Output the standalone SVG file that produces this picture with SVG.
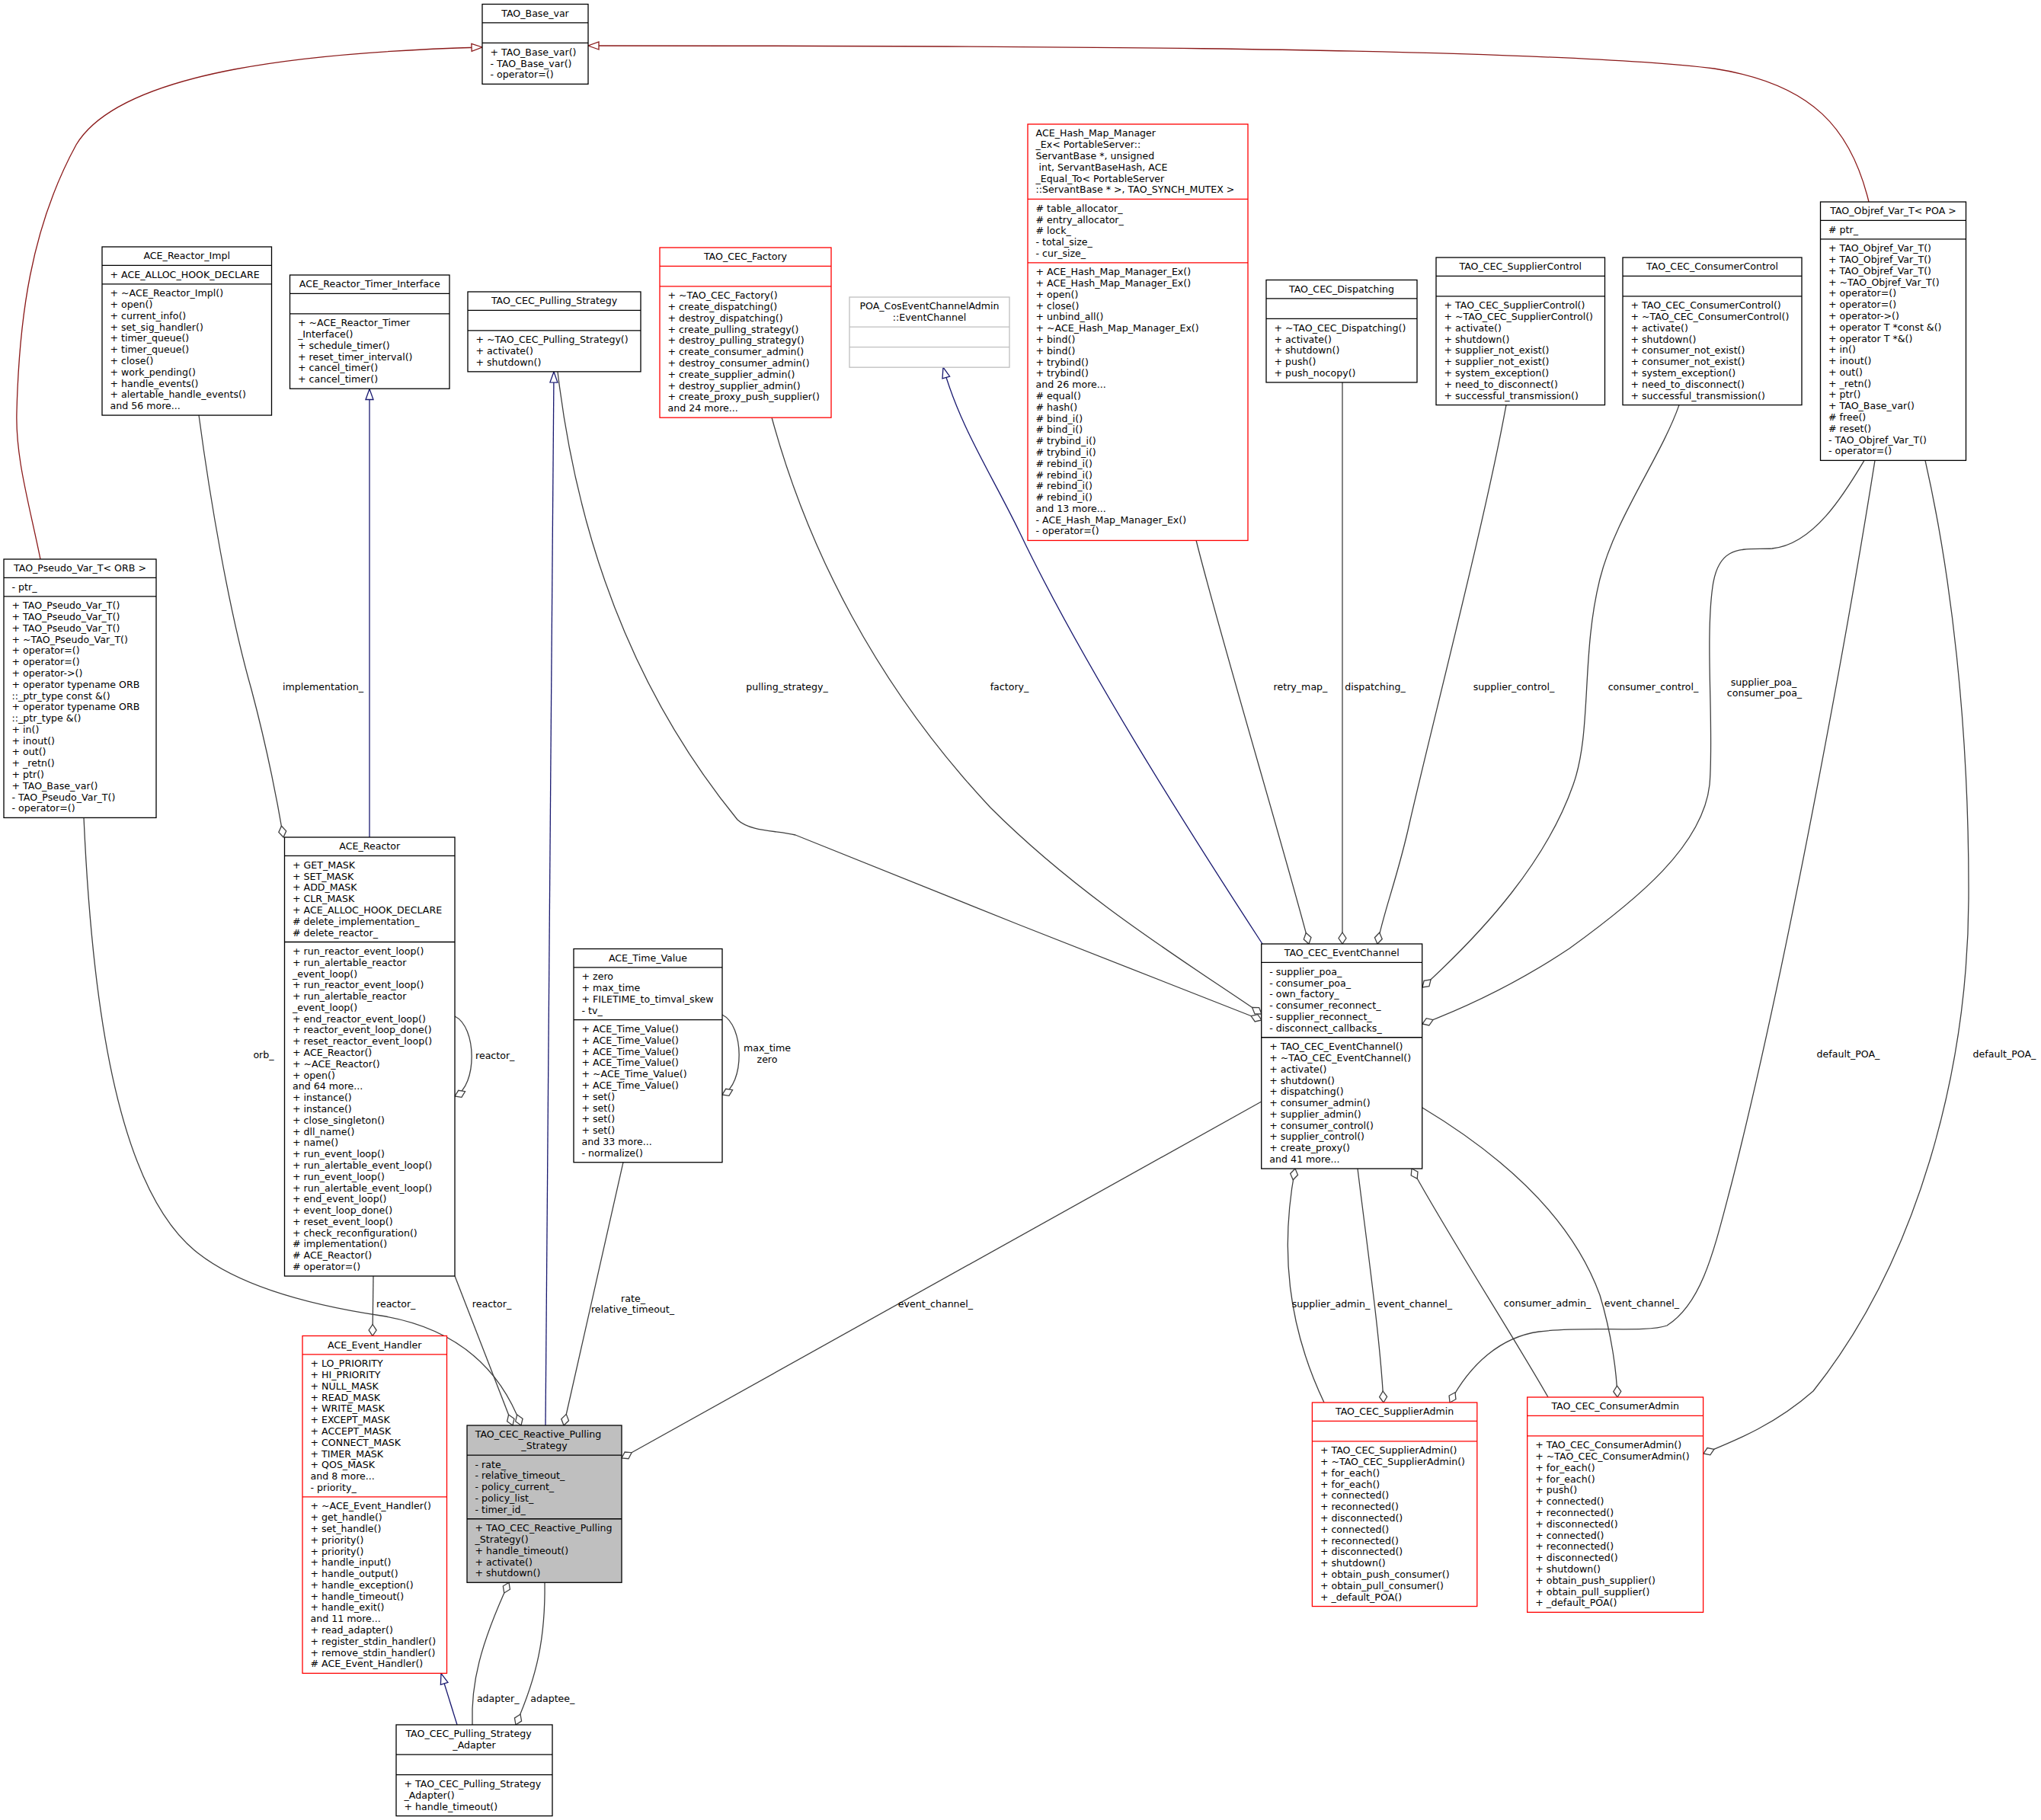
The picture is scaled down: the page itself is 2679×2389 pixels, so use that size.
<svg xmlns="http://www.w3.org/2000/svg" width="2679" height="2389" viewBox="0 0 2679 2389">
<style>
text{font-family:"DejaVu Sans","Liberation Sans",sans-serif;font-size:12.6px;fill:#000}
.c{text-anchor:middle}
.node rect{fill:#fff;stroke-width:1.3}
.node path{fill:none;stroke-width:1.3}
.bk rect,.bk path{stroke:#000}
.rd rect,.rd path{stroke:#ff0000}
.gy rect,.gy path{stroke:#bfbfbf}
.gf rect{fill:#bfbfbf}
.e{fill:none;stroke:#404040;stroke-width:1.3;marker-end:url(#d)}
.ei{fill:none;stroke:#191970;stroke-width:1.3;marker-end:url(#tb)}
.ep{fill:none;stroke:#8b1a1a;stroke-width:1.3;marker-end:url(#tr)}
</style>
<defs>
<marker id="d" markerUnits="userSpaceOnUse" markerWidth="18" markerHeight="14" refX="16" refY="7" orient="auto"><path d="M1,7 L8.5,2 L16,7 L8.5,12 Z" fill="#fff" stroke="#404040" stroke-width="1.3"/></marker>
<marker id="tb" markerUnits="userSpaceOnUse" markerWidth="18" markerHeight="14" refX="16" refY="7" orient="auto"><path d="M2,2 L16,7 L2,12 Z" fill="#fff" stroke="#191970" stroke-width="1.3"/></marker>
<marker id="tr" markerUnits="userSpaceOnUse" markerWidth="18" markerHeight="14" refX="16" refY="7" orient="auto"><path d="M2,2 L16,7 L2,12 Z" fill="#fff" stroke="#8b1a1a" stroke-width="1.3"/></marker>
</defs>
<rect width="2679" height="2389" fill="#fff"/>

<g id="edges">
<path class="ep" d="M53,734 C38,660 20,600 22,540 C25,420 40,300 100,190 C160,90 420,68 633,62"/>
<path class="ep" d="M2453,265 C2430,170 2380,110 2250,90 C2000,60 1200,60 772,60"/>
<path class="ei" d="M485,1099 L485,510.5"/>
<path class="ei" d="M716,1871 L727,488"/>
<path class="ei" d="M1657,1239 C1560,1090 1420,870 1338,698 C1300,620 1260,560 1238,482"/>
<path class="ei" d="M600,2264 L579,2196.5"/>
<path class="e" d="M261,545 C275,650 300,800 330,905 C350,980 362,1040 372,1099"/>
<path class="e" d="M732,488 C750,640 800,870 968,1076 C985,1092 1020,1090 1044,1096 L1338,1214 L1656,1339"/>
<path class="e" d="M1013,548 C1060,720 1150,900 1300,1060 C1420,1180 1560,1265 1656,1331"/>
<path class="e" d="M1570,709 C1600,830 1690,1130 1718,1239"/>
<path class="e" d="M1762,502 L1762,1239"/>
<path class="e" d="M1977,531.6 C1950,680 1880,950 1850,1081 C1835,1150 1815,1200 1808,1239"/>
<path class="e" d="M2204,531.6 C2180,600 2120,680 2100,760 C2075,860 2090,960 2065,1030 C2030,1130 1950,1220 1867,1296"/>
<path class="e" d="M2447,604.4 C2420,650 2380,715 2326,720 C2290,722 2256,712 2248,770 C2238,840 2250,960 2244,1030 C2235,1110 2150,1180 2060,1245 C2000,1285 1930,1320 1867,1344"/>
<path class="e" d="M2461,604.4 C2430,800 2350,1250 2273,1553 C2250,1640 2235,1710 2188,1740 C2160,1750 2080,1740 2020,1748 C1970,1755 1930,1790 1903,1841"/>
<path class="e" d="M2527,604.4 C2560,750 2585,950 2584,1180 C2583,1400 2520,1650 2380,1826 C2330,1870 2280,1890 2236,1908"/>
<path class="e" d="M1782,1534 C1795,1640 1812,1760 1816,1841"/>
<path class="e" d="M1738,1841 C1690,1740 1680,1640 1700,1534"/>
<path class="e" d="M2032,1834 C1990,1760 1900,1620 1853,1534"/>
<path class="e" d="M1867,1454 C1960,1510 2060,1590 2100,1700 C2115,1750 2122,1800 2123,1834"/>
<path class="e" d="M490,1675 L489,1753.5"/>
<path class="e" d="M597,1675 L673,1871"/>
<path class="e" d="M110,1073.4 C120,1300 150,1560 260,1645 C320,1692 420,1715 500,1727 C580,1740 650,1780 684,1871"/>
<path class="e" d="M818,1525.7 L740,1871"/>
<path class="e" d="M1655.7,1446 L816,1914"/>
<path class="e" d="M620,2264 C618,2210 630,2160 668,2077.3"/>
<path class="e" d="M715,2077.3 C716,2150 705,2200 677,2264"/>
<path class="e" d="M597,1334 C626,1348 627,1425 597,1439"/>
<path class="e" d="M948,1332 C977,1346 978,1423 948,1437"/>
<text class="c" x="424" y="906">implementation_</text>
<text class="c" x="1033" y="906">pulling_strategy_</text>
<text class="c" x="1325" y="906">factory_</text>
<text class="c" x="1707" y="906">retry_map_</text>
<text class="c" x="1805" y="906">dispatching_</text>
<text class="c" x="1987" y="906">supplier_control_</text>
<text class="c" x="2170" y="906">consumer_control_</text>
<text class="c" x="2315" y="899.5">supplier_poa_</text>
<text class="c" x="2316" y="914.3">consumer_poa_</text>
<text class="c" x="346" y="1389">orb_</text>
<text x="624" y="1390">reactor_</text>
<text class="c" x="1007" y="1380">max_time</text>
<text class="c" x="1007" y="1394.8">zero</text>
<text class="c" x="2426" y="1388">default_POA_</text>
<text class="c" x="2631" y="1388">default_POA_</text>
<text class="c" x="519.7" y="1716">reactor_</text>
<text class="c" x="645.5" y="1716">reactor_</text>
<text class="c" x="831" y="1708.5">rate_</text>
<text class="c" x="830.5" y="1723.3">relative_timeout_</text>
<text class="c" x="1228" y="1716">event_channel_</text>
<text class="c" x="1747" y="1716">supplier_admin_</text>
<text class="c" x="1857" y="1716">event_channel_</text>
<text class="c" x="2031" y="1715">consumer_admin_</text>
<text class="c" x="2155" y="1715">event_channel_</text>
<text class="c" x="653.7" y="2234">adapter_</text>
<text class="c" x="725.3" y="2234">adaptee_</text>
</g>

<g id="TAO_Base_var" class="node bk">
<rect x="633" y="5.5" width="139" height="104.86"/>
<path d="M633,29.89 H772 M633,56.39 H772"/>
<text class="c" x="702.5" y="21.9">TAO_Base_var</text>
<text x="643.5" y="72.79">+ TAO_Base_var()<tspan x="643.5" dy="14.79">- TAO_Base_var()</tspan><tspan x="643.5" dy="14.79">- operator=()</tspan></text>
</g>

<g id="ACE_Reactor_Impl" class="node bk">
<rect x="134" y="324" width="222.5" height="221.07"/>
<path d="M134,348.39 H356.5 M134,372.78 H356.5"/>
<text class="c" x="245.25" y="340.4">ACE_Reactor_Impl</text>
<text x="144.5" y="364.79">+ ACE_ALLOC_HOOK_DECLARE</text>
<text x="144.5" y="389.18">+ ~ACE_Reactor_Impl()<tspan x="144.5" dy="14.79">+ open()</tspan><tspan x="144.5" dy="14.79">+ current_info()</tspan><tspan x="144.5" dy="14.79">+ set_sig_handler()</tspan><tspan x="144.5" dy="14.79">+ timer_queue()</tspan><tspan x="144.5" dy="14.79">+ timer_queue()</tspan><tspan x="144.5" dy="14.79">+ close()</tspan><tspan x="144.5" dy="14.79">+ work_pending()</tspan><tspan x="144.5" dy="14.79">+ handle_events()</tspan><tspan x="144.5" dy="14.79">+ alertable_handle_events()</tspan><tspan x="144.5" dy="14.79">and 56 more...</tspan></text>
</g>

<g id="ACE_Reactor_Timer_Interface" class="node bk">
<rect x="380.5" y="361" width="209.5" height="149.23"/>
<path d="M380.5,385.39 H590 M380.5,411.89 H590"/>
<text class="c" x="485.25" y="377.4">ACE_Reactor_Timer_Interface</text>
<text x="391" y="428.29">+ ~ACE_Reactor_Timer<tspan x="391" dy="14.79">_Interface()</tspan><tspan x="391" dy="14.79">+ schedule_timer()</tspan><tspan x="391" dy="14.79">+ reset_timer_interval()</tspan><tspan x="391" dy="14.79">+ cancel_timer()</tspan><tspan x="391" dy="14.79">+ cancel_timer()</tspan></text>
</g>

<g id="TAO_CEC_Pulling_Strategy" class="node bk">
<rect x="614" y="383" width="227" height="104.86"/>
<path d="M614,407.39 H841 M614,433.89 H841"/>
<text class="c" x="727.5" y="399.4">TAO_CEC_Pulling_Strategy</text>
<text x="624.5" y="450.29">+ ~TAO_CEC_Pulling_Strategy()<tspan x="624.5" dy="14.79">+ activate()</tspan><tspan x="624.5" dy="14.79">+ shutdown()</tspan></text>
</g>

<g id="TAO_CEC_Factory" class="node rd">
<rect x="866" y="325" width="225" height="223.18"/>
<path d="M866,349.39 H1091 M866,375.89 H1091"/>
<text class="c" x="978.5" y="341.4">TAO_CEC_Factory</text>
<text x="876.5" y="392.29">+ ~TAO_CEC_Factory()<tspan x="876.5" dy="14.79">+ create_dispatching()</tspan><tspan x="876.5" dy="14.79">+ destroy_dispatching()</tspan><tspan x="876.5" dy="14.79">+ create_pulling_strategy()</tspan><tspan x="876.5" dy="14.79">+ destroy_pulling_strategy()</tspan><tspan x="876.5" dy="14.79">+ create_consumer_admin()</tspan><tspan x="876.5" dy="14.79">+ destroy_consumer_admin()</tspan><tspan x="876.5" dy="14.79">+ create_supplier_admin()</tspan><tspan x="876.5" dy="14.79">+ destroy_supplier_admin()</tspan><tspan x="876.5" dy="14.79">+ create_proxy_push_supplier()</tspan><tspan x="876.5" dy="14.79">and 24 more...</tspan></text>
</g>

<g id="POA_CosEventChannelAdmin_EventChannel" class="node gy">
<rect x="1115" y="390" width="210" height="92.18"/>
<path d="M1115,429.18 H1325 M1115,455.68 H1325"/>
<text class="c" x="1220" y="406.4">POA_CosEventChannelAdmin<tspan x="1220" dy="14.79">::EventChannel</tspan></text>
</g>

<g id="ACE_Hash_Map_Manager_Ex" class="node rd">
<rect x="1349" y="163" width="289" height="546.45"/>
<path d="M1349,261.34 H1638 M1349,344.89 H1638"/>
<text x="1359.5" y="179.4">ACE_Hash_Map_Manager<tspan x="1359.5" dy="14.79">_Ex&lt; PortableServer::</tspan><tspan x="1359.5" dy="14.79">ServantBase *, unsigned</tspan><tspan x="1363.5" dy="14.79">int, ServantBaseHash, ACE</tspan><tspan x="1359.5" dy="14.79">_Equal_To&lt; PortableServer</tspan><tspan x="1359.5" dy="14.79">::ServantBase * &gt;, TAO_SYNCH_MUTEX &gt;</tspan></text>
<text x="1359.5" y="277.74"># table_allocator_<tspan x="1359.5" dy="14.79"># entry_allocator_</tspan><tspan x="1359.5" dy="14.79"># lock_</tspan><tspan x="1359.5" dy="14.79">- total_size_</tspan><tspan x="1359.5" dy="14.79">- cur_size_</tspan></text>
<text x="1359.5" y="361.29">+ ACE_Hash_Map_Manager_Ex()<tspan x="1359.5" dy="14.79">+ ACE_Hash_Map_Manager_Ex()</tspan><tspan x="1359.5" dy="14.79">+ open()</tspan><tspan x="1359.5" dy="14.79">+ close()</tspan><tspan x="1359.5" dy="14.79">+ unbind_all()</tspan><tspan x="1359.5" dy="14.79">+ ~ACE_Hash_Map_Manager_Ex()</tspan><tspan x="1359.5" dy="14.79">+ bind()</tspan><tspan x="1359.5" dy="14.79">+ bind()</tspan><tspan x="1359.5" dy="14.79">+ trybind()</tspan><tspan x="1359.5" dy="14.79">+ trybind()</tspan><tspan x="1359.5" dy="14.79">and 26 more...</tspan><tspan x="1359.5" dy="14.79"># equal()</tspan><tspan x="1359.5" dy="14.79"># hash()</tspan><tspan x="1359.5" dy="14.79"># bind_i()</tspan><tspan x="1359.5" dy="14.79"># bind_i()</tspan><tspan x="1359.5" dy="14.79"># trybind_i()</tspan><tspan x="1359.5" dy="14.79"># trybind_i()</tspan><tspan x="1359.5" dy="14.79"># rebind_i()</tspan><tspan x="1359.5" dy="14.79"># rebind_i()</tspan><tspan x="1359.5" dy="14.79"># rebind_i()</tspan><tspan x="1359.5" dy="14.79"># rebind_i()</tspan><tspan x="1359.5" dy="14.79">and 13 more...</tspan><tspan x="1359.5" dy="14.79">- ACE_Hash_Map_Manager_Ex()</tspan><tspan x="1359.5" dy="14.79">- operator=()</tspan></text>
</g>

<g id="TAO_CEC_Dispatching" class="node bk">
<rect x="1662" y="367.5" width="198" height="134.44"/>
<path d="M1662,391.89 H1860 M1662,418.39 H1860"/>
<text class="c" x="1761" y="383.9">TAO_CEC_Dispatching</text>
<text x="1672.5" y="434.79">+ ~TAO_CEC_Dispatching()<tspan x="1672.5" dy="14.79">+ activate()</tspan><tspan x="1672.5" dy="14.79">+ shutdown()</tspan><tspan x="1672.5" dy="14.79">+ push()</tspan><tspan x="1672.5" dy="14.79">+ push_nocopy()</tspan></text>
</g>

<g id="TAO_CEC_SupplierControl" class="node bk">
<rect x="1885" y="338" width="221.5" height="193.6"/>
<path d="M1885,362.39 H2106.5 M1885,388.89 H2106.5"/>
<text class="c" x="1995.75" y="354.4">TAO_CEC_SupplierControl</text>
<text x="1895.5" y="405.29">+ TAO_CEC_SupplierControl()<tspan x="1895.5" dy="14.79">+ ~TAO_CEC_SupplierControl()</tspan><tspan x="1895.5" dy="14.79">+ activate()</tspan><tspan x="1895.5" dy="14.79">+ shutdown()</tspan><tspan x="1895.5" dy="14.79">+ supplier_not_exist()</tspan><tspan x="1895.5" dy="14.79">+ supplier_not_exist()</tspan><tspan x="1895.5" dy="14.79">+ system_exception()</tspan><tspan x="1895.5" dy="14.79">+ need_to_disconnect()</tspan><tspan x="1895.5" dy="14.79">+ successful_transmission()</tspan></text>
</g>

<g id="TAO_CEC_ConsumerControl" class="node bk">
<rect x="2130" y="338" width="235" height="193.6"/>
<path d="M2130,362.39 H2365 M2130,388.89 H2365"/>
<text class="c" x="2247.5" y="354.4">TAO_CEC_ConsumerControl</text>
<text x="2140.5" y="405.29">+ TAO_CEC_ConsumerControl()<tspan x="2140.5" dy="14.79">+ ~TAO_CEC_ConsumerControl()</tspan><tspan x="2140.5" dy="14.79">+ activate()</tspan><tspan x="2140.5" dy="14.79">+ shutdown()</tspan><tspan x="2140.5" dy="14.79">+ consumer_not_exist()</tspan><tspan x="2140.5" dy="14.79">+ consumer_not_exist()</tspan><tspan x="2140.5" dy="14.79">+ system_exception()</tspan><tspan x="2140.5" dy="14.79">+ need_to_disconnect()</tspan><tspan x="2140.5" dy="14.79">+ successful_transmission()</tspan></text>
</g>

<g id="TAO_Objref_Var_T_POA" class="node bk">
<rect x="2389.5" y="265" width="191" height="339.39"/>
<path d="M2389.5,289.39 H2580.5 M2389.5,313.78 H2580.5"/>
<text class="c" x="2485" y="281.4">TAO_Objref_Var_T&lt; POA &gt;</text>
<text x="2400" y="305.79"># ptr_</text>
<text x="2400" y="330.18">+ TAO_Objref_Var_T()<tspan x="2400" dy="14.79">+ TAO_Objref_Var_T()</tspan><tspan x="2400" dy="14.79">+ TAO_Objref_Var_T()</tspan><tspan x="2400" dy="14.79">+ ~TAO_Objref_Var_T()</tspan><tspan x="2400" dy="14.79">+ operator=()</tspan><tspan x="2400" dy="14.79">+ operator=()</tspan><tspan x="2400" dy="14.79">+ operator-&gt;()</tspan><tspan x="2400" dy="14.79">+ operator T *const &amp;()</tspan><tspan x="2400" dy="14.79">+ operator T *&amp;()</tspan><tspan x="2400" dy="14.79">+ in()</tspan><tspan x="2400" dy="14.79">+ inout()</tspan><tspan x="2400" dy="14.79">+ out()</tspan><tspan x="2400" dy="14.79">+ _retn()</tspan><tspan x="2400" dy="14.79">+ ptr()</tspan><tspan x="2400" dy="14.79">+ TAO_Base_var()</tspan><tspan x="2400" dy="14.79"># free()</tspan><tspan x="2400" dy="14.79"># reset()</tspan><tspan x="2400" dy="14.79">- TAO_Objref_Var_T()</tspan><tspan x="2400" dy="14.79">- operator=()</tspan></text>
</g>

<g id="TAO_Pseudo_Var_T_ORB" class="node bk">
<rect x="5" y="734" width="200" height="339.39"/>
<path d="M5,758.39 H205 M5,782.78 H205"/>
<text class="c" x="105" y="750.4">TAO_Pseudo_Var_T&lt; ORB &gt;</text>
<text x="15.5" y="774.79">- ptr_</text>
<text x="15.5" y="799.18">+ TAO_Pseudo_Var_T()<tspan x="15.5" dy="14.79">+ TAO_Pseudo_Var_T()</tspan><tspan x="15.5" dy="14.79">+ TAO_Pseudo_Var_T()</tspan><tspan x="15.5" dy="14.79">+ ~TAO_Pseudo_Var_T()</tspan><tspan x="15.5" dy="14.79">+ operator=()</tspan><tspan x="15.5" dy="14.79">+ operator=()</tspan><tspan x="15.5" dy="14.79">+ operator-&gt;()</tspan><tspan x="15.5" dy="14.79">+ operator typename ORB</tspan><tspan x="15.5" dy="14.79">::_ptr_type const &amp;()</tspan><tspan x="15.5" dy="14.79">+ operator typename ORB</tspan><tspan x="15.5" dy="14.79">::_ptr_type &amp;()</tspan><tspan x="15.5" dy="14.79">+ in()</tspan><tspan x="15.5" dy="14.79">+ inout()</tspan><tspan x="15.5" dy="14.79">+ out()</tspan><tspan x="15.5" dy="14.79">+ _retn()</tspan><tspan x="15.5" dy="14.79">+ ptr()</tspan><tspan x="15.5" dy="14.79">+ TAO_Base_var()</tspan><tspan x="15.5" dy="14.79">- TAO_Pseudo_Var_T()</tspan><tspan x="15.5" dy="14.79">- operator=()</tspan></text>
</g>

<g id="ACE_Reactor" class="node bk">
<rect x="373.5" y="1099" width="223.5" height="576.03"/>
<path d="M373.5,1123.39 H597 M373.5,1236.52 H597"/>
<text class="c" x="485.25" y="1115.4">ACE_Reactor</text>
<text x="384" y="1139.79">+ GET_MASK<tspan x="384" dy="14.79">+ SET_MASK</tspan><tspan x="384" dy="14.79">+ ADD_MASK</tspan><tspan x="384" dy="14.79">+ CLR_MASK</tspan><tspan x="384" dy="14.79">+ ACE_ALLOC_HOOK_DECLARE</tspan><tspan x="384" dy="14.79"># delete_implementation_</tspan><tspan x="384" dy="14.79"># delete_reactor_</tspan></text>
<text x="384" y="1252.92">+ run_reactor_event_loop()<tspan x="384" dy="14.79">+ run_alertable_reactor</tspan><tspan x="384" dy="14.79">_event_loop()</tspan><tspan x="384" dy="14.79">+ run_reactor_event_loop()</tspan><tspan x="384" dy="14.79">+ run_alertable_reactor</tspan><tspan x="384" dy="14.79">_event_loop()</tspan><tspan x="384" dy="14.79">+ end_reactor_event_loop()</tspan><tspan x="384" dy="14.79">+ reactor_event_loop_done()</tspan><tspan x="384" dy="14.79">+ reset_reactor_event_loop()</tspan><tspan x="384" dy="14.79">+ ACE_Reactor()</tspan><tspan x="384" dy="14.79">+ ~ACE_Reactor()</tspan><tspan x="384" dy="14.79">+ open()</tspan><tspan x="384" dy="14.79">and 64 more...</tspan><tspan x="384" dy="14.79">+ instance()</tspan><tspan x="384" dy="14.79">+ instance()</tspan><tspan x="384" dy="14.79">+ close_singleton()</tspan><tspan x="384" dy="14.79">+ dll_name()</tspan><tspan x="384" dy="14.79">+ name()</tspan><tspan x="384" dy="14.79">+ run_event_loop()</tspan><tspan x="384" dy="14.79">+ run_alertable_event_loop()</tspan><tspan x="384" dy="14.79">+ run_event_loop()</tspan><tspan x="384" dy="14.79">+ run_alertable_event_loop()</tspan><tspan x="384" dy="14.79">+ end_event_loop()</tspan><tspan x="384" dy="14.79">+ event_loop_done()</tspan><tspan x="384" dy="14.79">+ reset_event_loop()</tspan><tspan x="384" dy="14.79">+ check_reconfiguration()</tspan><tspan x="384" dy="14.79"># implementation()</tspan><tspan x="384" dy="14.79"># ACE_Reactor()</tspan><tspan x="384" dy="14.79"># operator=()</tspan></text>
</g>

<g id="ACE_Time_Value" class="node bk">
<rect x="753" y="1245.5" width="195" height="280.23"/>
<path d="M753,1269.89 H948 M753,1338.65 H948"/>
<text class="c" x="850.5" y="1261.9">ACE_Time_Value</text>
<text x="763.5" y="1286.29">+ zero<tspan x="763.5" dy="14.79">+ max_time</tspan><tspan x="763.5" dy="14.79">+ FILETIME_to_timval_skew</tspan><tspan x="763.5" dy="14.79">- tv_</tspan></text>
<text x="763.5" y="1355.05">+ ACE_Time_Value()<tspan x="763.5" dy="14.79">+ ACE_Time_Value()</tspan><tspan x="763.5" dy="14.79">+ ACE_Time_Value()</tspan><tspan x="763.5" dy="14.79">+ ACE_Time_Value()</tspan><tspan x="763.5" dy="14.79">+ ~ACE_Time_Value()</tspan><tspan x="763.5" dy="14.79">+ ACE_Time_Value()</tspan><tspan x="763.5" dy="14.79">+ set()</tspan><tspan x="763.5" dy="14.79">+ set()</tspan><tspan x="763.5" dy="14.79">+ set()</tspan><tspan x="763.5" dy="14.79">+ set()</tspan><tspan x="763.5" dy="14.79">and 33 more...</tspan><tspan x="763.5" dy="14.79">- normalize()</tspan></text>
</g>

<g id="ACE_Event_Handler" class="node rd">
<rect x="397" y="1753.5" width="189.5" height="442.92"/>
<path d="M397,1777.89 H586.5 M397,1964.97 H586.5"/>
<text class="c" x="491.75" y="1769.9">ACE_Event_Handler</text>
<text x="407.5" y="1794.29">+ LO_PRIORITY<tspan x="407.5" dy="14.79">+ HI_PRIORITY</tspan><tspan x="407.5" dy="14.79">+ NULL_MASK</tspan><tspan x="407.5" dy="14.79">+ READ_MASK</tspan><tspan x="407.5" dy="14.79">+ WRITE_MASK</tspan><tspan x="407.5" dy="14.79">+ EXCEPT_MASK</tspan><tspan x="407.5" dy="14.79">+ ACCEPT_MASK</tspan><tspan x="407.5" dy="14.79">+ CONNECT_MASK</tspan><tspan x="407.5" dy="14.79">+ TIMER_MASK</tspan><tspan x="407.5" dy="14.79">+ QOS_MASK</tspan><tspan x="407.5" dy="14.79">and 8 more...</tspan><tspan x="407.5" dy="14.79">- priority_</tspan></text>
<text x="407.5" y="1981.37">+ ~ACE_Event_Handler()<tspan x="407.5" dy="14.79">+ get_handle()</tspan><tspan x="407.5" dy="14.79">+ set_handle()</tspan><tspan x="407.5" dy="14.79">+ priority()</tspan><tspan x="407.5" dy="14.79">+ priority()</tspan><tspan x="407.5" dy="14.79">+ handle_input()</tspan><tspan x="407.5" dy="14.79">+ handle_output()</tspan><tspan x="407.5" dy="14.79">+ handle_exception()</tspan><tspan x="407.5" dy="14.79">+ handle_timeout()</tspan><tspan x="407.5" dy="14.79">+ handle_exit()</tspan><tspan x="407.5" dy="14.79">and 11 more...</tspan><tspan x="407.5" dy="14.79">+ read_adapter()</tspan><tspan x="407.5" dy="14.79">+ register_stdin_handler()</tspan><tspan x="407.5" dy="14.79">+ remove_stdin_handler()</tspan><tspan x="407.5" dy="14.79"># ACE_Event_Handler()</tspan></text>
</g>

<g id="TAO_CEC_Reactive_Pulling_Strategy" class="node bk gf">
<rect x="613" y="1871" width="203" height="206.28"/>
<path d="M613,1910.18 H816 M613,1993.73 H816"/>
<text class="c" x="706.5" y="1887.4">TAO_CEC_Reactive_Pulling</text>
<text class="c" x="714.5" y="1902.19">_Strategy</text>
<text x="623.5" y="1926.58">- rate_<tspan x="623.5" dy="14.79">- relative_timeout_</tspan><tspan x="623.5" dy="14.79">- policy_current_</tspan><tspan x="623.5" dy="14.79">- policy_list_</tspan><tspan x="623.5" dy="14.79">- timer_id_</tspan></text>
<text x="623.5" y="2010.13">+ TAO_CEC_Reactive_Pulling<tspan x="623.5" dy="14.79">_Strategy()</tspan><tspan x="623.5" dy="14.79">+ handle_timeout()</tspan><tspan x="623.5" dy="14.79">+ activate()</tspan><tspan x="623.5" dy="14.79">+ shutdown()</tspan></text>
</g>

<g id="TAO_CEC_Pulling_Strategy_Adapter" class="node bk">
<rect x="520" y="2264" width="205" height="119.65"/>
<path d="M520,2303.18 H725 M520,2329.68 H725"/>
<text class="c" x="615" y="2280.4">TAO_CEC_Pulling_Strategy</text>
<text class="c" x="622.5" y="2295.19">_Adapter</text>
<text x="530.5" y="2346.08">+ TAO_CEC_Pulling_Strategy<tspan x="530.5" dy="14.79">_Adapter()</tspan><tspan x="530.5" dy="14.79">+ handle_timeout()</tspan></text>
</g>

<g id="TAO_CEC_EventChannel" class="node bk">
<rect x="1655.7" y="1239" width="211" height="295.02"/>
<path d="M1655.7,1263.39 H1866.7 M1655.7,1361.73 H1866.7"/>
<text class="c" x="1761.2" y="1255.4">TAO_CEC_EventChannel</text>
<text x="1666.2" y="1279.79">- supplier_poa_<tspan x="1666.2" dy="14.79">- consumer_poa_</tspan><tspan x="1666.2" dy="14.79">- own_factory_</tspan><tspan x="1666.2" dy="14.79">- consumer_reconnect_</tspan><tspan x="1666.2" dy="14.79">- supplier_reconnect_</tspan><tspan x="1666.2" dy="14.79">- disconnect_callbacks_</tspan></text>
<text x="1666.2" y="1378.13">+ TAO_CEC_EventChannel()<tspan x="1666.2" dy="14.79">+ ~TAO_CEC_EventChannel()</tspan><tspan x="1666.2" dy="14.79">+ activate()</tspan><tspan x="1666.2" dy="14.79">+ shutdown()</tspan><tspan x="1666.2" dy="14.79">+ dispatching()</tspan><tspan x="1666.2" dy="14.79">+ consumer_admin()</tspan><tspan x="1666.2" dy="14.79">+ supplier_admin()</tspan><tspan x="1666.2" dy="14.79">+ consumer_control()</tspan><tspan x="1666.2" dy="14.79">+ supplier_control()</tspan><tspan x="1666.2" dy="14.79">+ create_proxy()</tspan><tspan x="1666.2" dy="14.79">and 41 more...</tspan></text>
</g>

<g id="TAO_CEC_SupplierAdmin" class="node rd">
<rect x="1722.4" y="1841" width="216.4" height="267.55"/>
<path d="M1722.4,1865.39 H1938.8 M1722.4,1891.89 H1938.8"/>
<text class="c" x="1830.6" y="1857.4">TAO_CEC_SupplierAdmin</text>
<text x="1732.9" y="1908.29">+ TAO_CEC_SupplierAdmin()<tspan x="1732.9" dy="14.79">+ ~TAO_CEC_SupplierAdmin()</tspan><tspan x="1732.9" dy="14.79">+ for_each()</tspan><tspan x="1732.9" dy="14.79">+ for_each()</tspan><tspan x="1732.9" dy="14.79">+ connected()</tspan><tspan x="1732.9" dy="14.79">+ reconnected()</tspan><tspan x="1732.9" dy="14.79">+ disconnected()</tspan><tspan x="1732.9" dy="14.79">+ connected()</tspan><tspan x="1732.9" dy="14.79">+ reconnected()</tspan><tspan x="1732.9" dy="14.79">+ disconnected()</tspan><tspan x="1732.9" dy="14.79">+ shutdown()</tspan><tspan x="1732.9" dy="14.79">+ obtain_push_consumer()</tspan><tspan x="1732.9" dy="14.79">+ obtain_pull_consumer()</tspan><tspan x="1732.9" dy="14.79">+ _default_POA()</tspan></text>
</g>

<g id="TAO_CEC_ConsumerAdmin" class="node rd">
<rect x="2004.7" y="1834" width="230.9" height="282.34"/>
<path d="M2004.7,1858.39 H2235.6 M2004.7,1884.89 H2235.6"/>
<text class="c" x="2120.15" y="1850.4">TAO_CEC_ConsumerAdmin</text>
<text x="2015.2" y="1901.29">+ TAO_CEC_ConsumerAdmin()<tspan x="2015.2" dy="14.79">+ ~TAO_CEC_ConsumerAdmin()</tspan><tspan x="2015.2" dy="14.79">+ for_each()</tspan><tspan x="2015.2" dy="14.79">+ for_each()</tspan><tspan x="2015.2" dy="14.79">+ push()</tspan><tspan x="2015.2" dy="14.79">+ connected()</tspan><tspan x="2015.2" dy="14.79">+ reconnected()</tspan><tspan x="2015.2" dy="14.79">+ disconnected()</tspan><tspan x="2015.2" dy="14.79">+ connected()</tspan><tspan x="2015.2" dy="14.79">+ reconnected()</tspan><tspan x="2015.2" dy="14.79">+ disconnected()</tspan><tspan x="2015.2" dy="14.79">+ shutdown()</tspan><tspan x="2015.2" dy="14.79">+ obtain_push_supplier()</tspan><tspan x="2015.2" dy="14.79">+ obtain_pull_supplier()</tspan><tspan x="2015.2" dy="14.79">+ _default_POA()</tspan></text>
</g>
</svg>
